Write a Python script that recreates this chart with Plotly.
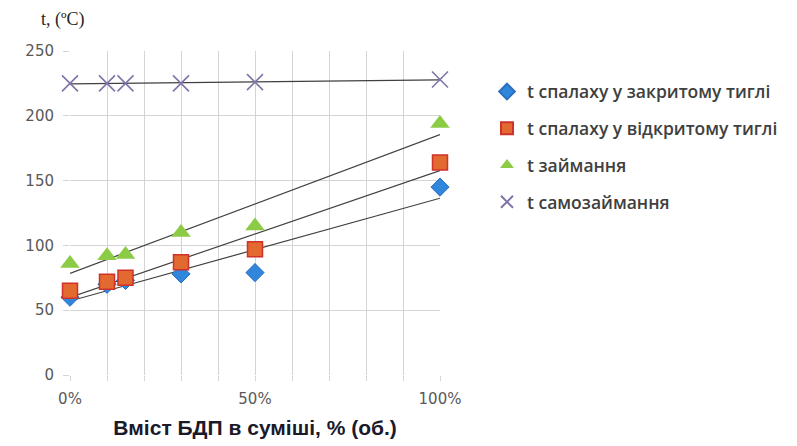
import numpy as np
import plotly.graph_objects as go

x_share = [0.0, 0.10, 0.15, 0.30, 0.50, 1.00]
t_closed = [60, 70, 73, 78, 79, 145]
t_open = [65, 72, 75, 87, 97, 164]
t_ignition = [86, 92, 93, 110, 115, 194]
t_autoign = [225, 225, 225, 225, 226, 228]

names = ["t спалаху у закритому тиглі", "t спалаху у відкритому тиглі",
         "t займання", "t самозаймання"]
x_ticks = [0.0, 0.5, 1.0]
x_tick_text = ["0%", "50%", "100%"]

fig = go.Figure()

series = [
    (t_closed, dict(symbol="diamond", size=14, color="#2F86DA",
                    line=dict(color="#2A6FC0", width=1))),
    (t_open, dict(symbol="square", size=15, color="#E2692F",
                  line=dict(color="#D0312A", width=1.5))),
    (t_ignition, dict(symbol="triangle-up", size=17, color="#8CCB45",
                      line=dict(width=0))),
    (t_autoign, dict(symbol="x-thin", size=16, color="#8073A8",
                     line=dict(color="#8073A8", width=1.6))),
]

xs = np.array(x_share)
for vals, mk in series:
    k, b = np.polyfit(xs, np.array(vals, dtype=float), 1)
    fig.add_trace(go.Scatter(x=[0, 1], y=[b, b + k], mode="lines",
                             line=dict(color="#404040", width=1.2),
                             showlegend=False, hoverinfo="skip", cliponaxis=False))

for i, ((vals, mk), nm) in enumerate(zip(series, names)):
    fig.add_trace(go.Scatter(x=x_share, y=vals, mode="markers", name=nm,
                             legendgroup=f"g{i}",
                             marker=mk, cliponaxis=False))

grid_vals = [i / 10 for i in range(11)]
grid_text = [x_tick_text[x_ticks.index(v)] if v in x_ticks else "" for v in grid_vals]

fig.update_layout(
    width=789, height=438,
    margin=dict(l=62, r=357, t=43, b=71, autoexpand=False),
    paper_bgcolor="white", plot_bgcolor="white",
    font=dict(family="DejaVu Sans, sans-serif", color="#595959", size=15),
    showlegend=True,
    legend=dict(x=1.127, y=0.93, xanchor="left", yanchor="top",
                font=dict(family="Open Sans, sans-serif", size=17.5, color="#404040",
                          weight=600),
                tracegroupgap=11, itemsizing="constant",
                bgcolor="rgba(0,0,0,0)"),
    xaxis=dict(range=[0, 1], tickvals=grid_vals, ticktext=grid_text,
               showgrid=True, gridcolor="#D4D4D4", gridwidth=1.2,
               zeroline=False, showline=False, ticks="outside", ticklen=5,
               tickcolor="#D4D4D4", ticklabelstandoff=5, automargin=False,
               title=dict(text="<b>Вміст БДП в суміші, % (об.)</b>",
                          font=dict(family="Liberation Sans, Arial, sans-serif",
                                    size=21, color="#1A1A2A"), standoff=13)),
    yaxis=dict(range=[0, 250], dtick=50, showgrid=True, gridcolor="#D4D4D4",
               gridwidth=1.2, automargin=False,
               zeroline=False, showline=False, ticks="outside", ticklen=6,
               tickcolor="#D4D4D4", ticklabelstandoff=6),
    annotations=[dict(text="t, (ºC)", xref="paper", yref="paper", x=-0.085, y=1.096,
                      xanchor="left", yanchor="middle", showarrow=False,
                      font=dict(family="Liberation Serif, Times New Roman, serif",
                                size=18, color="#262626"))],
)

fig.write_html("out.html")
